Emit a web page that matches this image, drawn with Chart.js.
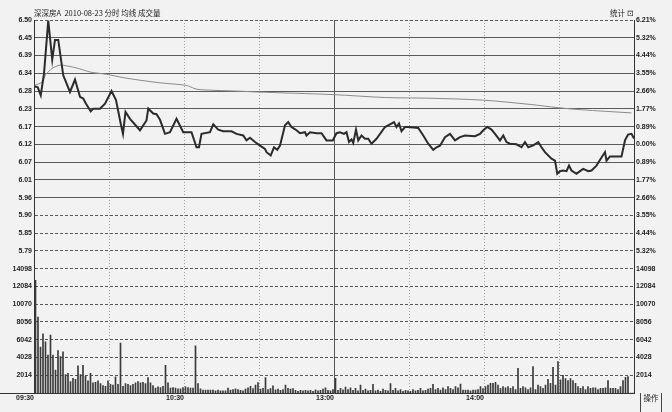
<!DOCTYPE html>
<html>
<head>
<meta charset="utf-8">
<script src="https://cdn.jsdelivr.net/npm/chart.js@4.4.1/dist/chart.umd.min.js"></script>
<style>
  html, body { margin: 0; padding: 0; background: #f2f2f2; }
  #wrap { position: relative; width: 672px; height: 412px; overflow: hidden; }
  canvas { position: absolute; left: 0; top: 0; }
  .txt { position: absolute; font-family: "Noto Sans CJK SC", sans-serif; font-size: 7.5px; color: #222; white-space: pre; line-height: 1; }
  #op { left: 640px; top: 393px; width: 22px; height: 19px; border-left: 1px solid #444; border-right: 1px solid #444; text-align: center; padding-top: 1px; box-sizing: border-box; }
  #baseLeft { position: absolute; left: 0; top: 393px; width: 34px; height: 1px; background: #333; }
</style>
</head>
<body>
<div id="wrap">
  <canvas id="chart" width="672" height="412"></canvas>
  <div class="txt" style="left:34px;top:9px;">深深房A  2010-08-23 分时 均线 成交量</div>
  <div class="txt" style="left:610px;top:9px;">统计 ⊡</div>
  <div class="txt" id="op">操作</div>
  <div id="baseLeft"></div>
</div>
<script>
// Eje de tiempo (minutos desde 09:30)
const timeTicks = [0, 30, 60, 90, 120, 150, 180, 210, 240];
const timeLabels = ["09:30", "", "10:30", "", "13:00", "", "14:00", "", ""];

// Escalas de precio / porcentaje / volumen
const priceMax = 6.50;
const priceMin = 5.74;
const priceTickLabels = ["6.50", "6.45", "6.39", "6.34", "6.28", "6.23", "6.17", "6.12", "6.07", "6.01", "5.96", "5.90", "5.85", "5.79"];
const pctTickLabels = ["6.21%", "5.32%", "4.44%", "3.55%", "2.66%", "1.77%", "0.89%", "0.00%", "0.89%", "1.77%", "2.66%", "3.55%", "4.44%", "5.32%"];
const volTickLabels = ["14098", "12084", "10070", "8056", "6042", "4028", "2014"];

// Precio (minuto, valor)
const priceMinutes = [0, 1.5, 2.7, 4, 5.7, 7.3, 8.4, 9.7, 11.7, 14.4, 16.4, 18.4, 19.7, 20.8, 22.7, 23.7, 26.4, 28.4, 31, 32.8,
  34.7, 35.6, 36.6, 38.4, 42.4, 45, 45.7, 47.7, 49, 50.4, 52.4, 54.4, 57, 59.7, 63, 65, 66, 67, 70.4, 71.7,
  73.7, 75.7, 79, 81, 83.7, 85, 86.4, 88.4, 90.4, 92.4, 93, 94.7, 96, 97.3, 98.4, 100.4, 101.7, 103, 104, 105,
  106.4, 108.4, 109, 110.4, 113, 115, 117, 119.5, 121, 122.4, 124, 125, 126, 127, 127.7, 128.8, 129.7, 131, 132.4, 133.7,
  135, 137, 140.4, 142.4, 144, 145, 146, 147, 148.4, 149.7, 153.7, 155.7, 157.7, 159.7, 161, 162.4, 164.4, 166.4, 168.4, 170.4,
  172.4, 176.4, 178.4, 179.7, 181.3, 183, 184.4, 186.4, 187.7, 189, 190.4, 193, 195, 196.4, 197.7, 199.7, 201.7, 203, 204.4, 207,
  208.4, 209.3, 210.4, 211.7, 213, 214, 215, 217, 218.4, 219.7, 221.7, 223, 225, 227, 228.4, 229, 230.4, 235, 236.4, 237.6,
  239, 240];
const priceValues = [6.298, 6.294, 6.270, 6.336, 6.498, 6.379, 6.439, 6.439, 6.331, 6.280, 6.318, 6.265, 6.260, 6.244, 6.221, 6.229, 6.229, 6.244, 6.283, 6.255,
  6.183, 6.152, 6.219, 6.198, 6.163, 6.193, 6.229, 6.214, 6.212, 6.195, 6.152, 6.157, 6.198, 6.157, 6.157, 6.111, 6.111, 6.152, 6.157, 6.181,
  6.165, 6.160, 6.160, 6.152, 6.147, 6.132, 6.140, 6.127, 6.116, 6.106, 6.096, 6.086, 6.111, 6.103, 6.116, 6.178, 6.188, 6.173, 6.168, 6.163,
  6.154, 6.157, 6.147, 6.157, 6.154, 6.154, 6.132, 6.132, 6.154, 6.157, 6.152, 6.157, 6.127, 6.135, 6.124, 6.165, 6.132, 6.147, 6.137, 6.137,
  6.122, 6.137, 6.173, 6.181, 6.188, 6.173, 6.184, 6.160, 6.173, 6.173, 6.170, 6.147, 6.122, 6.103, 6.111, 6.116, 6.142, 6.152, 6.132, 6.142,
  6.147, 6.145, 6.152, 6.163, 6.173, 6.165, 6.152, 6.132, 6.147, 6.127, 6.122, 6.120, 6.111, 6.127, 6.111, 6.117, 6.127, 6.111, 6.096, 6.076,
  6.070, 6.030, 6.038, 6.040, 6.038, 6.055, 6.040, 6.030, 6.038, 6.045, 6.038, 6.040, 6.055, 6.080, 6.096, 6.070, 6.083, 6.083, 6.132, 6.150,
  6.152, 6.138];

// Linea de precio promedio
const avgMinutes = [0, 3.2, 4.8, 6.1, 7.2, 10.4, 13, 17.7, 22.4, 29, 35.6, 42.4, 50.4, 61, 64.4, 66.4, 83.6, 89, 119.6, 140.7, 158, 179.7, 198.4, 209.7, 218.4, 239];
const avgValues = [6.300, 6.310, 6.335, 6.344, 6.352, 6.362, 6.360, 6.352, 6.341, 6.334, 6.324, 6.316, 6.308, 6.300, 6.290, 6.287, 6.282, 6.280, 6.272, 6.263, 6.261, 6.255, 6.242, 6.232, 6.226, 6.216];

// Volumen por minuto (240 barras)
const volumes = [
  12770, 8600, 5200, 6700, 5800, 4300, 6560, 4300, 2600, 4800,
  4130, 4660, 2080, 2240, 1290, 1670, 1550, 3070, 2080, 3150,
  1930, 1380, 2240, 1140, 1220, 1380, 1060, 850, 760, 1380,
  990, 910, 1820, 990, 5650, 760, 1060, 990, 850, 990,
  1140, 1290, 1140, 1220, 1060, 1740, 1140, 850, 550, 700,
  620, 760, 3150, 1140, 550, 620, 550, 480, 480, 620,
  700, 620, 550, 550, 5340, 1060, 480, 330, 330, 330,
  330, 330, 250, 330, 250, 250, 250, 550, 330, 400,
  480, 400, 300, 250, 450, 600, 770, 500, 910, 1180,
  450, 530, 1740, 400, 500, 800, 350, 450, 300, 400,
  910, 530, 450, 500, 300, 200, 300, 250, 300, 250,
  300, 200, 350, 250, 300, 450, 600, 300, 250, 400,
  1670, 300, 530, 350, 680, 400, 600, 300, 530, 250,
  910, 300, 450, 250, 300, 990, 250, 330, 200, 450,
  300, 250, 1060, 300, 530, 250, 400, 200, 300, 250,
  200, 400, 250, 300, 530, 250, 300, 450, 530, 990,
  400, 530, 340, 600, 400, 720, 530, 400, 720, 600,
  1020, 340, 340, 340, 250, 340, 340, 400, 720, 500,
  720, 910, 1100, 1100, 1200, 910, 530, 720, 600, 720,
  530, 720, 400, 2800, 530, 720, 600, 400, 600, 2990,
  400, 910, 720, 530, 910, 1560, 1100, 2920, 910, 3560,
  1480, 2010, 1630, 1400, 1630, 1400, 1100, 720, 530, 720,
  400, 720, 530, 600, 600, 400, 530, 530, 600, 1400,
  530, 530, 530, 400, 720, 1400, 1790, 1850, 0, 0
];

document.addEventListener("DOMContentLoaded", () => {
    Chart.defaults.font.family = "'Liberation Sans', Arial, sans-serif";
    Chart.defaults.font.size = 7;
    Chart.defaults.font.weight = "bold";
    Chart.defaults.color = "#222";

    const ctx = document.getElementById("chart").getContext("2d");
    const priceStep = (priceMax - priceMin) / 14;

    function priceTicks(scale) {
        const ticks = priceTickLabels.map((l, k) => ({ value: priceMax - k * priceStep }));
        ticks.push({ value: priceMin });
        scale.ticks = ticks;
    }

    function volTicks(scale) {
        scale.ticks = volTickLabels.map(l => ({ value: Number(l) }));
    }

    new Chart(ctx, {
        type: "line",
        data: {
            datasets: [
                {
                    label: "price",
                    data: priceMinutes.map((m, i) => ({ x: m, y: priceValues[i] })),
                    yAxisID: "price",
                    borderColor: "#2b2b2b",
                    borderWidth: 2,
                    pointRadius: 0,
                    tension: 0
                },
                {
                    label: "avg",
                    data: avgMinutes.map((m, i) => ({ x: m, y: avgValues[i] })),
                    yAxisID: "price",
                    borderColor: "#8a8a8a",
                    borderWidth: 1,
                    pointRadius: 0,
                    tension: 0.3
                },
                {
                    type: "bar",
                    label: "vol",
                    // cada barra un poco a la derecha del inicio de su minuto
                    data: volumes.map((v, i) => ({ x: i + 0.6, y: v })),
                    yAxisID: "vol",
                    backgroundColor: "#3a3a3a",
                    borderWidth: 0,
                    barThickness: 1
                }
            ]
        },
        options: {
            responsive: false,
            animation: false,
            layout: { padding: { top: 20, left: 0, right: 0, bottom: 0 } },
            plugins: { legend: { display: false }, tooltip: { enabled: false } },
            scales: {
                x: {
                    type: "linear",
                    min: 0,
                    max: 240,
                    offset: false,
                    grid: {
                        offset: false,
                        drawTicks: false,
                        color: c => {
                            const v = c.tick ? c.tick.value : -1;
                            if (v === 0 || v === 240) return "#333";
                            return v === 120 ? "#555" : "#a0a0a0";
                        }
                    },
                    border: {
                        color: "#333",
                        dash: c => (c.tick && [0, 120, 240].includes(c.tick.value)) ? [] : [1, 2]
                    },
                    afterBuildTicks: s => { s.ticks = timeTicks.map(v => ({ value: v })); },
                    afterFit: s => { s.height = 19; },
                    ticks: {
                        autoSkip: false,
                        maxRotation: 0,
                        align: "end",
                        padding: 1,
                        callback: (v, i) => timeLabels[i]
                    }
                },
                // en el lado izquierdo la pila se ordena al reves: volumen primero
                vol: {
                    type: "linear",
                    position: "left",
                    stack: "left",
                    stackWeight: 1,
                    min: 0,
                    max: 14098,
                    grid: { drawTicks: false, color: "#555" },
                    border: { color: "#333", dash: [3, 2] },
                    afterBuildTicks: volTicks,
                    afterFit: s => { s.width = 34; },
                    ticks: { autoSkip: false, padding: 2, callback: (v, i) => volTickLabels[i] }
                },
                price: {
                    type: "linear",
                    position: "left",
                    stack: "left",
                    stackWeight: 2,
                    min: priceMin,
                    max: priceMax,
                    grid: { drawTicks: false, color: "#5a5a5a" },
                    border: {
                        color: "#333",
                        dash: c => (c.index === 0 || c.index >= 11) ? [3, 2] : []
                    },
                    afterBuildTicks: priceTicks,
                    afterFit: s => { s.width = 34; },
                    ticks: { autoSkip: false, padding: 2, callback: (v, i) => priceTickLabels[i] || "" }
                },
                pct: {
                    type: "linear",
                    position: "right",
                    stack: "right",
                    stackWeight: 2,
                    min: priceMin,
                    max: priceMax,
                    grid: { display: false, drawTicks: false },
                    border: { color: "#333" },
                    afterBuildTicks: priceTicks,
                    afterFit: s => { s.width = 38; },
                    ticks: { autoSkip: false, padding: 2, callback: (v, i) => pctTickLabels[i] || "" }
                },
                volR: {
                    type: "linear",
                    position: "right",
                    stack: "right",
                    stackWeight: 1,
                    min: 0,
                    max: 14098,
                    grid: { display: false, drawTicks: false },
                    border: { color: "#333" },
                    afterBuildTicks: volTicks,
                    afterFit: s => { s.width = 38; },
                    ticks: { autoSkip: false, padding: 2, callback: (v, i) => volTickLabels[i] }
                }
            }
        }
    });
});
</script>
</body>
</html>
